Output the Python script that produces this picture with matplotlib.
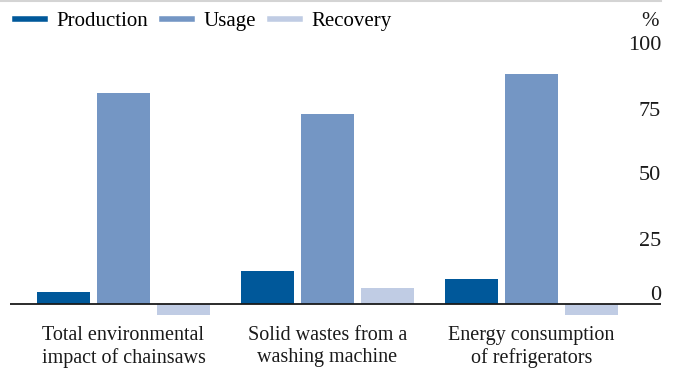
import matplotlib.pyplot as plt
from matplotlib.lines import Line2D
import numpy as np

plt.rcParams["font.family"] = ["Liberation Serif", "DejaVu Serif"]

categories = [
    "Total environmental\nimpact of chainsaws",
    "Solid wastes from a\nwashing machine",
    "Energy consumption\nof refrigerators",
]
series_names = ["Production", "Usage", "Recovery"]
production = [4.5, 12.7, 9.6]
usage = [81.2, 73.0, 88.5]
recovery = [-4.2, 6.2, -4.2]
yticks = [0, 25, 50, 75, 100]

colors = ["#00589a", "#7496c4", "#c0cce4"]
ink = "#1a1a1a"
W, H = 674, 374

fig = plt.figure(figsize=(W / 100, H / 100), dpi=100)
# axes placed in pixel terms: x 10..661, y 44 (100%) .. 330 (-10%)
ax = fig.add_axes([10 / W, (H - 330) / H, (661 - 10) / W, (330 - 44) / H])

x = np.arange(len(categories))
slot = 60 / 204
width = 53 / 204
for i, (vals, c) in enumerate(zip([production, usage, recovery], colors)):
    ax.bar(x + (i - 1) * slot, vals, width=width, color=c, zorder=2)

ax.set_xlim((10 - 123.5) / 204, (661 - 123.5) / 204)
ax.set_ylim(-10, 100)
ax.axhline(0, color=ink, lw=1.3, zorder=3)

for s in ax.spines.values():
    s.set_visible(False)
ax.set_yticks([])
ax.set_xticks(x)
ax.set_xticklabels(categories, fontsize=14.5, color=ink, linespacing=1.25)
ax.tick_params(axis="x", length=0, pad=-3)

# value scale on the right edge
for t in yticks:
    if t == 0:
        ax.annotate(str(t), xy=(1, 0), xycoords=("axes fraction", "data"),
                    xytext=(0, -1), textcoords="offset pixels",
                    ha="right", va="bottom", fontsize=16, color=ink)
    else:
        ax.annotate(str(t), xy=(1, t), xycoords=("axes fraction", "data"),
                    xytext=(0, -2), textcoords="offset pixels",
                    ha="right", va="center", fontsize=16, color=ink)
fig.text(659 / W, 1 - 21 / H, "%", ha="right", va="center", fontsize=15, color=ink)

# thin rule along the top
fig.add_artist(Line2D([0, 661 / W], [1 - 1 / H, 1 - 1 / H], color="#d4d4d4", lw=1.5))

handles = [Line2D([], [], color=c, lw=4) for c in colors]
fig.legend(handles, series_names, loc="center left", bbox_to_anchor=(15 / W, 1 - 21 / H),
           ncol=3, frameon=False, fontsize=15, handlelength=1.45, handletextpad=0.55,
           columnspacing=0.65, borderaxespad=0, borderpad=0)

fig.savefig("out.png", dpi=100, facecolor="white")
